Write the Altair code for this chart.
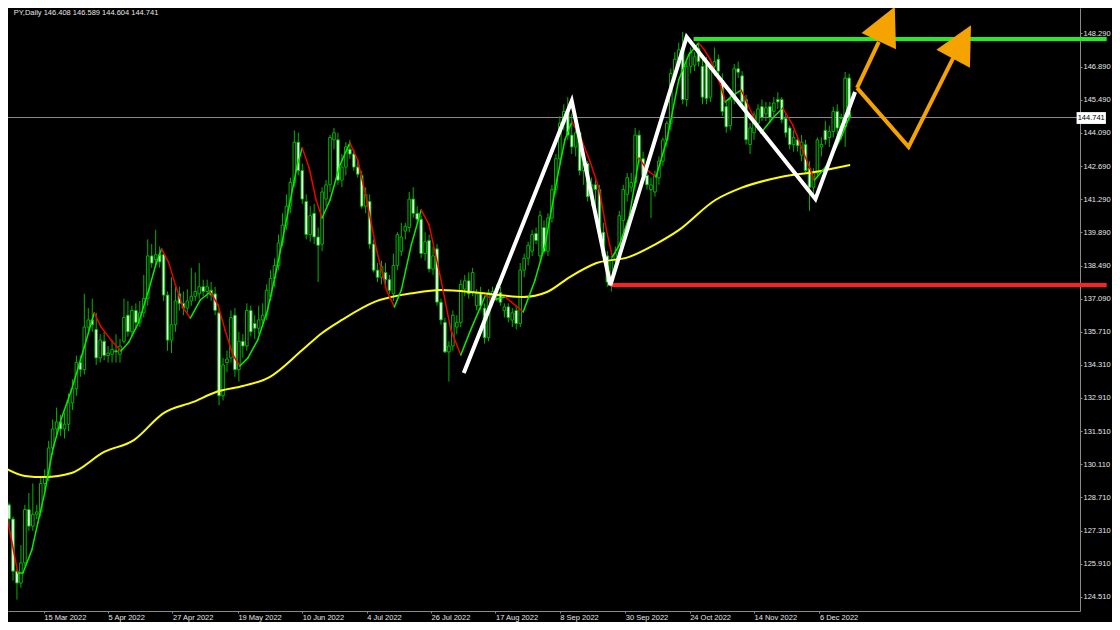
import json
import altair as alt
import pandas as pd

# ---------------- data ----------------
opens = [128.9, 128.4, 127.8, 125.6, 125.1, 125.95, 128.2, 127.5, 128.0, 128.1,
         129.3, 129.55, 130.8, 131.6, 131.9, 131.6, 131.8, 132.7, 133.3, 134.4,
         134.1, 135.9, 136.2, 135.8, 134.6, 135.3, 134.7, 134.75, 134.9, 134.75,
         135.3, 136.4, 135.7, 136.6, 136.1, 136.5, 137.1, 138.9, 138.75, 138.95,
         138.95, 137.25, 135.35, 136.0, 137.3, 136.9, 136.7, 137.0, 137.2, 137.3,
         137.6, 137.4, 137.45, 137.3, 136.5, 133.0, 134.4, 134.6, 136.4, 134.1,
         135.3, 135.1, 136.6, 136.05, 135.85, 136.2, 136.4, 137.2, 137.95, 138.5,
         139.45, 140.2, 141.0, 142.0, 143.7, 142.5, 141.2, 139.8, 140.7, 139.7,
         139.4, 141.3, 141.9, 143.8, 143.8, 142.1, 142.65, 143.4, 143.2, 142.65,
         142.3, 141.0, 141.2, 139.4, 138.3, 138.0, 138.2, 137.9, 137.3, 138.5,
         139.1, 139.95, 140.1, 141.3, 140.7, 140.45, 139.0, 139.55, 138.35, 139.2,
         136.95, 136.1, 134.85, 135.1, 135.9, 136.1, 137.5, 137.85, 137.4, 136.8,
         137.3, 136.7, 135.45, 137.0, 137.2, 137.35, 136.6, 136.75, 136.2, 136.6,
         136.05, 138.3, 138.8, 139.1, 139.85, 138.9, 140.1, 139.1, 140.5, 141.7,
         143.0, 144.5, 145.0, 144.0, 143.5, 144.1, 142.5, 142.8, 141.4, 141.9,
         141.7, 139.9, 138.9, 137.8, 138.7, 139.0, 140.4, 141.5, 141.8, 142.0,
         144.0, 143.0, 142.3, 141.7, 141.6, 142.2, 142.9, 143.8, 144.5, 146.6,
         147.2, 147.6, 145.5, 146.9, 146.95, 147.65, 146.9, 147.0, 145.6, 146.9,
         147.2, 146.3, 145.2, 144.4, 145.5, 146.8, 146.5, 145.5, 143.6, 144.1,
         144.5, 145.2, 144.9, 145.2, 145.0, 145.5, 145.5, 144.7, 144.3, 143.6,
         143.8, 143.15, 143.6, 142.6, 141.8, 142.4, 143.5, 144.2, 143.9, 144.15,
         145.0, 144.3, 144.35, 146.408]
highs = [129.2, 128.5, 127.9, 125.7, 126.7, 128.4, 128.9, 129.3, 128.4, 129.6,
         129.9, 131.1, 132.0, 132.5, 132.2, 132.3, 133.1, 133.7, 134.7, 134.7,
         137.3, 136.7, 137.1, 136.5, 135.6, 135.7, 135.1, 135.35, 135.6, 135.4,
         137.1, 137.0, 136.8, 136.9, 137.0, 138.1, 139.6, 139.4, 140.0, 139.3,
         139.1, 137.4, 138.0, 137.6, 137.6, 137.4, 137.5, 138.4, 138.2, 138.6,
         137.9, 137.9, 137.8, 137.6, 136.7, 134.6, 134.9, 136.6, 136.7, 135.7,
         135.6, 136.9, 136.8, 136.4, 136.8, 136.9, 137.7, 138.3, 138.8, 139.8,
         140.7, 141.5, 142.2, 144.2, 144.1, 142.8, 141.5, 141.0, 141.1, 140.1,
         141.8, 142.1, 144.0, 144.3, 144.1, 143.2, 143.7, 143.8, 143.4, 142.9,
         142.5, 141.8, 141.5, 139.6, 138.6, 138.7, 138.6, 138.1, 139.0, 139.9,
         140.3, 140.3, 141.6, 141.8, 141.0, 140.6, 139.9, 139.8, 139.3, 139.4,
         137.1, 136.3, 135.3, 136.6, 136.4, 137.9, 138.1, 138.2, 138.4, 137.5,
         137.6, 136.9, 137.5, 137.6, 137.7, 137.6, 136.9, 136.9, 136.7, 136.8,
         138.6, 139.0, 139.5, 140.0, 140.1, 140.8, 140.4, 140.7, 141.9, 143.2,
         144.8, 145.3, 145.6, 144.9, 144.4, 144.2, 143.2, 142.9, 142.2, 142.1,
         141.9, 140.3, 139.1, 138.9, 139.3, 140.8, 141.9, 142.4, 142.4, 144.3,
         144.2, 143.3, 142.5, 142.2, 142.5, 143.1, 143.9, 144.6, 146.8, 147.5,
         147.9, 148.35, 147.1, 147.7, 147.5, 147.9, 147.2, 147.3, 147.0, 147.7,
         147.4, 146.6, 145.4, 145.8, 147.0, 147.1, 146.7, 145.7, 144.5, 145.0,
         145.3, 145.5, 145.4, 145.4, 145.6, 145.8, 145.6, 144.9, 144.4, 144.2,
         144.0, 144.0, 143.8, 142.9, 142.6, 143.9, 143.9, 144.6, 144.4, 145.2,
         145.3, 144.9, 146.66, 146.589]
lows = [128.2, 127.5, 125.2, 124.4, 124.9, 125.8, 127.3, 127.3, 127.8, 127.9,
        129.0, 129.4, 130.5, 131.3, 131.3, 131.2, 131.5, 132.4, 133.0, 133.8,
        133.9, 135.6, 135.7, 134.3, 134.4, 134.5, 134.4, 134.4, 134.4, 134.4,
        135.2, 135.5, 135.5, 135.8, 135.9, 136.3, 136.8, 138.4, 138.4, 138.4,
        137.0, 134.9, 134.8, 135.7, 136.6, 136.4, 136.5, 136.8, 137.0, 137.1,
        137.2, 137.1, 137.0, 136.4, 132.6, 132.8, 134.0, 134.4, 133.8, 133.6,
        134.6, 134.9, 135.5, 135.4, 135.6, 135.9, 136.2, 137.0, 137.6, 138.3,
        139.3, 140.0, 140.7, 141.8, 142.3, 141.1, 139.6, 139.5, 139.4, 137.8,
        139.1, 141.0, 141.6, 143.4, 141.9, 141.8, 142.3, 143.0, 142.5, 142.2,
        140.9, 140.7, 139.2, 138.2, 137.8, 137.7, 137.7, 137.3, 137.0, 138.3,
        138.9, 139.6, 139.9, 140.5, 140.3, 138.8, 138.7, 138.2, 138.1, 136.8,
        136.0, 134.8, 133.6, 134.9, 135.6, 135.9, 137.2, 137.1, 137.2, 136.6,
        136.6, 135.2, 135.3, 136.8, 137.0, 136.8, 136.3, 136.1, 135.9, 135.8,
        135.9, 138.0, 138.5, 138.9, 139.4, 138.7, 139.0, 138.9, 140.3, 141.5,
        142.8, 144.2, 143.8, 143.2, 143.1, 142.3, 141.9, 141.2, 141.0, 141.0,
        139.6, 138.6, 137.6, 137.4, 138.3, 138.7, 139.9, 141.2, 141.6, 141.8,
        142.8, 142.1, 141.7, 140.5, 141.4, 141.9, 142.7, 143.5, 144.2, 146.3,
        146.9, 145.3, 145.2, 146.6, 146.7, 146.9, 145.3, 145.3, 145.4, 146.5,
        146.4, 144.8, 144.1, 144.2, 145.3, 146.4, 145.2, 143.6, 143.2, 143.8,
        144.2, 144.6, 144.6, 144.5, 144.8, 145.1, 144.5, 143.9, 143.4, 143.3,
        143.3, 142.9, 142.4, 140.8, 141.5, 142.2, 143.1, 143.6, 143.5, 143.9,
        143.6, 143.8, 143.5, 144.604]
closes = [128.4, 127.8, 125.6, 125.1, 125.95, 128.2, 127.5, 128.0, 128.1, 129.3,
          129.55, 130.8, 131.6, 131.9, 131.6, 131.8, 132.7, 133.3, 134.4, 134.1,
          135.9, 136.2, 136.0, 134.6, 135.35, 134.7, 134.8, 134.95, 134.85, 135.1,
          136.3, 135.7, 136.6, 136.1, 136.5, 137.1, 138.9, 138.6, 138.95, 138.65,
          137.25, 135.35, 136.0, 137.0, 136.9, 136.7, 137.0, 137.2, 137.4, 137.6,
          137.4, 137.6, 137.25, 136.6, 133.0, 134.3, 134.55, 136.3, 134.1, 135.3,
          135.1, 136.6, 135.7, 135.85, 136.2, 136.4, 137.45, 137.95, 138.5, 139.45,
          140.2, 141.0, 142.0, 143.7, 142.5, 141.3, 139.8, 140.6, 139.7, 139.35,
          141.6, 141.9, 143.9, 144.1, 142.1, 142.65, 143.5, 143.2, 142.65, 142.35,
          141.0, 141.5, 139.4, 138.3, 138.0, 138.45, 137.9, 137.45, 138.5, 139.8,
          139.7, 140.15, 141.3, 140.7, 140.45, 139.0, 139.5, 138.35, 138.9, 136.95,
          136.2, 134.85, 135.1, 136.4, 136.1, 137.7, 137.85, 137.3, 138.2, 137.3,
          136.8, 135.45, 137.35, 137.4, 137.3, 136.95, 136.75, 136.3, 136.5, 136.05,
          138.3, 138.8, 139.35, 139.8, 139.55, 140.6, 139.1, 140.5, 141.7, 143.0,
          144.5, 145.0, 144.0, 143.5, 144.1, 142.5, 142.8, 141.4, 141.9, 141.7,
          139.9, 138.9, 137.8, 138.7, 139.0, 140.6, 141.7, 142.2, 142.0, 144.0,
          143.0, 142.3, 141.9, 141.9, 142.3, 142.9, 143.8, 144.5, 146.6, 147.2,
          147.6, 145.5, 146.9, 147.5, 147.3, 147.1, 145.6, 145.55, 146.8, 147.1,
          146.7, 145.0, 144.35, 145.5, 146.8, 146.65, 145.4, 143.8, 144.3, 144.85,
          145.1, 144.75, 145.15, 144.75, 145.35, 145.4, 144.65, 144.1, 143.6, 143.9,
          143.55, 143.7, 142.5, 141.8, 142.4, 143.8, 143.6, 143.8, 144.15, 145.0,
          144.3, 144.7, 146.4, 144.741]

# fast coloured average (bar position, price)
fast_i = [0, 3.25, 4.5, 6.75, 8.25, 10, 12, 14.25, 16.75, 20, 22.5, 24.25, 26.75, 29.25,
          31.25, 33.75, 36.25, 38, 39.5, 41.25, 43, 45, 46.75, 49.25, 51.75, 53.75, 55.5,
          57.5, 59.25, 61.25, 63.75, 66.25, 68.75, 72, 73.75, 75, 76.75, 78.5, 80, 82,
          84.5, 87, 89, 91.25, 93.75, 96.25, 98.25, 100, 102.5, 105, 107, 110, 112.5,
          115, 117.5, 121.25, 123, 126.25, 130.75, 133.75, 136.25, 139.25, 141.25, 143,
          145, 147.5, 150, 151.75, 153.25, 155, 157.5, 160, 162, 164.25, 167, 170, 172.5,
          175, 176.5, 178, 180.75, 181.75, 183.75, 185.75, 187.5, 190.75, 193.75, 196.25,
          198.75, 201.25, 204.25, 207.5, 211.25, 213.25]
fast_p = [128.31, 125.52, 125.52, 126.49, 127.63, 128.90, 130.71, 132.06, 133.24, 135.06,
          136.49, 135.90, 135.35, 134.89, 135.27, 136.11, 137.46, 138.52, 139.19, 138.64,
          137.67, 136.70, 136.28, 137.04, 137.38, 136.83, 135.78, 134.72, 134.26, 134.59,
          135.35, 136.62, 138.52, 141.26, 142.74, 143.46, 142.61, 141.26, 140.50, 141.26,
          142.74, 143.67, 142.95, 141.26, 139.15, 137.46, 136.75, 137.46, 139.36, 140.84,
          140.21, 137.89, 135.78, 134.72, 135.78, 137.25, 137.04, 137.17, 136.54, 137.89,
          139.36, 142.10, 143.79, 144.55, 144.00, 142.95, 141.68, 140.00, 138.86, 139.36,
          140.54, 143.03, 142.53, 142.23, 143.79, 146.32, 147.38, 147.89, 147.59, 147.17,
          146.03, 145.40, 145.69, 145.90, 145.27, 144.09, 144.72, 145.14, 144.43, 143.37,
          142.10, 142.74, 144.00, 144.85]

# slow yellow average
slow_i = [0, 5, 10, 16.75, 25, 32.5, 40, 47.5, 53.25, 60, 66.75, 75, 80, 85, 93.25, 103.25,
          110, 120, 130.75, 136.75, 142.5, 149.25, 157.5, 163.75, 170, 179.25, 185.75,
          195.75, 204.25, 213.25]
slow_p = [129.95, 129.62, 129.57, 129.74, 130.63, 131.13, 132.27, 132.74, 133.16, 133.41,
          133.79, 134.93, 135.65, 136.20, 136.96, 137.34, 137.46, 137.34, 137.17, 137.38,
          138.01, 138.60, 138.86, 139.36, 139.99, 141.26, 141.77, 142.23, 142.44, 142.74]

# hand-drawn annotations (bar position, price)
zig_i = [115.75, 143, 152.75, 172, 204.5, 214.5]
zig_p = [133.96, 145.44, 137.67, 148.14, 141.30, 145.82]
arrow_path = ["a", "a", "b", "b", "b"]
arrow_i = [215, 220.5, 215, 228, 239.25]
arrow_p = [145.99, 147.93, 145.99, 143.50, 147.25]
head_i = [222.5, 241.5]
head_p = [148.69, 147.93]
head_angle = [25, 28]
level_names = ["resistance", "support"]
level_price = [148.05, 137.67]
level_start = [173.75, 152.75]
level_end = [278, 278]
last_price = 144.741

y_ticks = [124.51, 125.91, 127.31, 128.71, 130.11, 131.51, 132.91, 134.31, 135.71, 137.09,
           138.49, 139.89, 141.29, 142.69, 144.09, 145.49, 146.89, 148.29]
x_tick_pos = [9.75, 26, 42.25, 58.75, 75, 91.25, 107.5, 123.75, 140, 156.5, 172.75, 189, 205.5]
x_tick_labels = ["15 Mar 2022", "5 Apr 2022", "27 Apr 2022", "19 May 2022", "10 Jun 2022",
                 "4 Jul 2022", "26 Jul 2022", "17 Aug 2022", "8 Sep 2022", "30 Sep 2022",
                 "24 Oct 2022", "14 Nov 2022", "6 Dec 2022"]
title_text = "PY,Daily  146.408 146.589 144.604 144.741"

# ---------------- build ----------------
FONT = "Liberation Sans"
FS = 7.5
CANDLE = "#00b400"
xs = alt.Scale(domain=[2, 270], nice=False, zero=False)
ys = alt.Scale(domain=[123.919, 149.362], nice=False, zero=False)

n = len(closes)
candles = pd.DataFrame({
    "i": list(range(n)), "o": opens, "h": highs, "l": lows, "c": closes,
})
candles["h"] = candles[["h", "o", "c"]].max(axis=1)
candles["l"] = candles[["l", "o", "c"]].min(axis=1)
candles["fill"] = ["#000000" if c >= o else "#ffffff" for o, c in zip(opens, closes)]

label_expr = "{}[indexof({}, datum.value)]".format(json.dumps(x_tick_labels), json.dumps(x_tick_pos))

x_axis = alt.Axis(values=x_tick_pos, labelExpr=label_expr, grid=False, title=None,
                  labelAlign="left", labelPadding=0, tickSize=2, labelOverlap=False,
                  labelFlush=False, labelBound=False, domainColor="#8a8a8a",
                  tickColor="#8a8a8a", labelColor="#e6e6e6", labelFont=FONT, labelFontSize=FS)
y_axis = alt.Axis(orient="right", values=y_ticks, format=".3f", grid=False, title=None,
                  tickSize=2, labelPadding=1, labelOverlap=False, labelFlush=False,
                  labelBound=False, domainColor="#8a8a8a", tickColor="#8a8a8a",
                  labelColor="#e6e6e6", labelFont=FONT, labelFontSize=FS)


def X(field):
    return alt.X(field, scale=xs, axis=x_axis)


def Y(field):
    return alt.Y(field, scale=ys, axis=y_axis)


price_line = alt.Chart(pd.DataFrame({"p": [last_price]})).mark_rule(
    color="#8c8c8c", strokeWidth=1).encode(y=Y("p:Q"))

wicks = alt.Chart(candles).mark_rule(color=CANDLE, strokeWidth=1, clip=True).encode(
    x=X("i:Q"), y=Y("l:Q"), y2="h:Q")

bodies = alt.Chart(candles).mark_bar(size=2.6, stroke=CANDLE, strokeWidth=1, clip=True).encode(
    x=X("i:Q"), y=Y("o:Q"), y2="c:Q",
    fill=alt.Fill("fill:N", scale=None))

slow = alt.Chart(pd.DataFrame({"i": slow_i, "p": slow_p})).mark_line(
    color="#ffff00", strokeWidth=2, interpolate="monotone", clip=True).encode(
    x=X("i:Q"), y=Y("p:Q"))

seg = pd.DataFrame({
    "x": fast_i[:-1], "x2": fast_i[1:], "y": fast_p[:-1], "y2": fast_p[1:],
})
seg["col"] = ["#00f000" if b >= a else "#f00000" for a, b in zip(fast_p[:-1], fast_p[1:])]
fast = alt.Chart(seg).mark_rule(strokeWidth=1.5, strokeCap="round", clip=True).encode(
    x=X("x:Q"), x2="x2:Q", y=Y("y:Q"), y2="y2:Q",
    color=alt.Color("col:N", scale=None))

levels = alt.Chart(pd.DataFrame({"name": level_names, "p": level_price,
                                 "s": level_start, "e": level_end,
                                 "col": ["#22ee22", "#ff2020"]})).mark_rule(
    strokeWidth=4, clip=False).encode(
    x=X("s:Q"), x2="e:Q", y=Y("p:Q"),
    color=alt.Color("col:N", scale=None))

zig = alt.Chart(pd.DataFrame({"i": zig_i, "p": zig_p, "k": list(range(len(zig_i)))})).mark_line(
    color="#ffffff", strokeWidth=4, clip=False).encode(
    x=X("i:Q"), y=Y("p:Q"), order="k:Q")

ORANGE = "#f5a300"
arrows = alt.Chart(pd.DataFrame({"g": arrow_path, "i": arrow_i, "p": arrow_p,
                                 "k": list(range(len(arrow_i)))})).mark_line(
    color=ORANGE, strokeWidth=4, clip=False).encode(
    x=X("i:Q"), y=Y("p:Q"), detail="g:N", order="k:Q")

heads = alt.Chart(pd.DataFrame({"i": head_i, "p": head_p, "a": head_angle})).mark_point(
    shape="M0,-1L1,1L-1,1Z", filled=True, size=1444, color=ORANGE, opacity=1,
    strokeWidth=0, clip=False).encode(
    x=X("i:Q"), y=Y("p:Q"), angle=alt.Angle("a:Q", scale=None))

box = alt.Chart(pd.DataFrame({"x": [270.4], "x2": [277.8], "y": [144.47], "y2": [144.97]})).mark_rect(
    fill="#ffffff", clip=False).encode(
    x=X("x:Q"), x2="x2:Q", y=Y("y:Q"), y2="y2:Q")
box_text = alt.Chart(pd.DataFrame({"x": [274.1], "p": [144.72], "t": ["{:.3f}".format(last_price)]})).mark_text(
    color="#000000", font=FONT, fontSize=FS, align="center", baseline="middle", clip=False).encode(
    x=X("x:Q"), y=Y("p:Q"), text="t:N")

title = alt.Chart(pd.DataFrame({"x": [2.2], "p": [149.32], "t": [title_text]})).mark_text(
    color="#e6e6e6", font=FONT, fontSize=FS, align="left", baseline="top", clip=False).encode(
    x=X("x:Q"), y=Y("p:Q"), text="t:N")

chart = alt.layer(price_line, wicks, bodies, slow, fast, levels, zig, arrows, heads,
                  box, box_text, title).properties(
    width=1072, height=603, background="#000000",
    padding={"left": 0, "top": 0, "right": 32, "bottom": 11},
    autosize=alt.AutoSizeParams(type="none"),
).configure_view(stroke=None, fill="#000000")

chart.save("out.html", embed_options={"renderer": "svg", "actions": False})
